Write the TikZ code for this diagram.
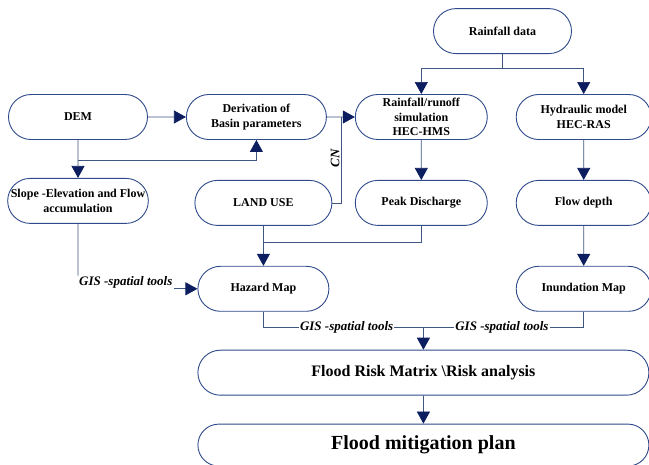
\documentclass[tikz,border=0pt]{standalone}
\usepackage{fontspec}
\setmainfont{Liberation Serif}
\usetikzlibrary{arrows.meta,positioning,calc,shapes.misc}
\definecolor{BoxBlue}{RGB}{46,74,138}
\definecolor{LineBlue}{RGB}{62,86,128}
\definecolor{TipNavy}{RGB}{12,30,95}

\begin{document}
\begin{tikzpicture}[
      x=1pt,y=-1pt,
      floodbox/.style={rounded rectangle,draw=BoxBlue,line width=0.9pt,minimum width=137pt,minimum height=45pt,inner sep=0pt,align=center,font=\bfseries\fontsize{12}{14.5}\selectfont},
      widebox/.style={floodbox,minimum width=451pt},
      link/.style={LineBlue,line width=0.7pt},
      arr/.style={link,-{Triangle[length=12pt,width=13pt,color=TipNavy]}},
      gislab/.style={text=black,font=\bfseries\itshape\fontsize{13}{15}\selectfont,inner sep=1pt}
    ]
    \useasboundingbox (0,0) rectangle (649,465);
    % top row
    \node[floodbox,minimum width=139pt] (dem) at (78,117) {DEM};
    \node[floodbox,minimum width=140pt,right=38pt of dem] (basin) {Derivation of\\Basin parameters};
    \node[floodbox,minimum width=132pt,right=28pt of basin] (hms) {Rainfall/runoff\\simulation\\HEC-HMS};
    \node[floodbox,minimum width=135pt,right=28pt of hms] (ras) {Hydraulic model\\HEC-RAS};
    \coordinate (top) at ($(hms.north)!0.5!(ras.north)$);
    \node[floodbox,minimum width=138pt,above=40pt of top] (rain) {Rainfall data};
    % second row
    \node[floodbox,minimum width=139pt,below=38pt of dem] (slope) {Slope -Elevation and Flow\\accumulation};
    \node[floodbox,below=40pt of basin,xshift=7pt] (landuse) {LAND USE};
    \node[floodbox,minimum width=132pt,below=40pt of hms] (peak) {Peak Discharge};
    \node[floodbox,minimum width=135pt,below=40pt of ras] (depth) {Flow depth};
    % maps and results
    \node[floodbox,minimum width=131pt,below=40pt of landuse] (hazard) {Hazard Map};
    \node[floodbox,minimum width=135pt,below=40pt of depth] (inund) {Inundation Map};
    \node[widebox,anchor=north west,font=\bfseries\fontsize{16}{19}\selectfont] (risk) at ($(hazard.south west)+(0,38)$) {Flood Risk Matrix \textbackslash Risk analysis};
    \node[widebox,minimum height=42pt,below=28pt of risk,font=\bfseries\fontsize{20}{24}\selectfont] (plan) {Flood mitigation plan};

    \draw[arr] (rain.south) -- ++(0,14) -| (hms.north);
    \draw[arr] (rain.south) -- ++(0,14) -| (ras.north);
    \draw[arr] (dem) -- (basin);
    \draw[arr] (basin) -- (hms);
    \draw[arr] (dem) -- (slope);
    \coordinate (demsplit) at ($(dem.south)+(0,20)$);
    \draw[arr] (demsplit) -| (basin.south);
    \coordinate (cnx) at ($(basin.east)!0.5!(hms.west)$);
    \draw[link] (landuse.east) -| node[pos=0.76,rotate=90,anchor=south,gislab] (cn) {CN} (cnx);
    \draw[arr] (hms) -- (peak);
    \draw[arr] (ras) -- (depth);
    \draw[arr] (depth) -- (inund);
    \draw[arr] (landuse) -- (hazard);
    \coordinate (lujoin) at ($(landuse.south)+(0,17)$);
    \draw[link] (peak.south) |- (lujoin);

    \node[gislab,anchor=base west,yshift=3pt] (gisa) at (slope.south |- hazard.west) {GIS -spatial tools};
    \draw[link] (slope) -- (slope.south |- gisa.north);
    \draw[arr] (gisa.east |- hazard.west) -- (hazard.west);

    \coordinate (merge) at ($(risk.north)+(0,-22)$);
    \draw[link] (hazard.south) |- node[gislab,fill=white,pos=0.76] (gisb) {GIS -spatial tools} (merge);
    \draw[link] (inund.south) |- node[gislab,fill=white,pos=0.755] (gisc) {GIS -spatial tools} (merge);
    \draw[arr] (merge) -- (risk);
    \draw[arr] (risk) -- (plan);
  \end{tikzpicture}
\end{document}
